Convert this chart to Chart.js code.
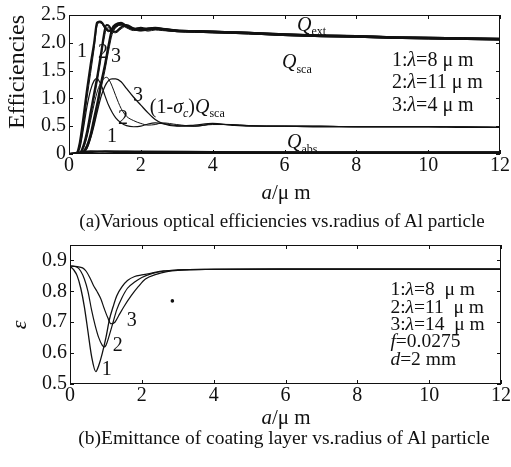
<!DOCTYPE html>
<html>
<head>
<meta charset="utf-8">
<script src="https://cdn.jsdelivr.net/npm/chart.js@4.4.1/dist/chart.umd.min.js"></script>
<style>
  body { margin: 0; background: #fff; }
  #wrap { position: relative; width: 511px; height: 467px; overflow: hidden; font-family: "Liberation Serif", "DejaVu Serif", serif; color: #111; }
  canvas { position: absolute; left: 0; }
  .t { position: absolute; transform: translate(-50%, -50%); white-space: nowrap; line-height: 1; }
  .rot { transform: translate(-50%, -50%) rotate(-90deg); }
</style>
</head>
<body>
<div id="wrap">
  <canvas id="top" width="511" height="180" style="top:0"></canvas>
  <canvas id="bottom" width="511" height="180" style="top:230px"></canvas>

  <div class="t rot" style="left:16px; top:72px; font-size:24px;">Efficiencies</div>
  <div class="t" style="left:286px; top:192px; font-size:21px;"><i>a</i>/μ m</div>
  <div class="t" style="left:282px; top:220px; font-size:19px;">(a)Various optical efficiencies vs.radius of Al particle</div>

  <div class="t rot" style="left:19px; top:325px; font-size:22px;"><i>ε</i></div>
  <div class="t" style="left:286px; top:417px; font-size:21px;"><i>a</i>/μ m</div>
  <div class="t" style="left:284px; top:438px; font-size:19.5px;">(b)Emittance of coating layer vs.radius of Al particle</div>
</div>
<script>
// --- (a) optical efficiencies, one a-grid per wavelength ---
const a1 = [0, 0.2, 0.3, 0.4, 0.5, 0.6, 0.7, 0.78, 0.85, 0.92, 1.0, 1.1, 1.2, 1.3, 1.45, 1.6, 1.8, 2.0, 2.2, 2.4, 2.7, 3.0, 3.5, 4.0, 4.5, 5, 6, 7, 8, 9, 10, 11, 12];
const qExt1 = [0, 0.01, 0.2, 0.65, 1.15, 1.6, 2.0, 2.36, 2.38, 2.36, 2.28, 2.22, 2.24, 2.3, 2.34, 2.3, 2.25, 2.24, 2.26, 2.27, 2.24, 2.22, 2.21, 2.2, 2.19, 2.18, 2.15, 2.13, 2.12, 2.1, 2.09, 2.08, 2.07];
const qSca1 = [0, 0, 0.12, 0.5, 1.0, 1.45, 1.9, 2.3, 2.36, 2.34, 2.26, 2.2, 2.22, 2.28, 2.32, 2.28, 2.23, 2.22, 2.24, 2.25, 2.22, 2.2, 2.19, 2.18, 2.17, 2.16, 2.13, 2.11, 2.1, 2.08, 2.07, 2.06, 2.05];
const qScaC1 = [0, 0, 0.1, 0.45, 0.85, 1.15, 1.32, 1.36, 1.3, 1.2, 1.05, 0.88, 0.75, 0.65, 0.56, 0.51, 0.49, 0.5, 0.54, 0.56, 0.54, 0.51, 0.5, 0.54, 0.53, 0.51, 0.5, 0.5, 0.49, 0.49, 0.49, 0.49, 0.48];

const a2 = [0, 0.3, 0.4, 0.5, 0.6, 0.7, 0.8, 0.9, 1.0, 1.05, 1.12, 1.2, 1.3, 1.45, 1.6, 1.8, 2.0, 2.2, 2.4, 2.6, 3.0, 3.5, 4.0, 4.5, 5, 6, 7, 8, 9, 10, 11, 12];
const qExt2 = [0, 0.02, 0.15, 0.4, 0.75, 1.1, 1.45, 1.85, 2.25, 2.32, 2.3, 2.22, 2.2, 2.28, 2.32, 2.26, 2.23, 2.25, 2.26, 2.25, 2.22, 2.21, 2.2, 2.19, 2.18, 2.15, 2.13, 2.12, 2.1, 2.09, 2.08, 2.07];
const qSca2 = [0, 0.01, 0.1, 0.32, 0.65, 1.0, 1.35, 1.75, 2.15, 2.26, 2.27, 2.2, 2.18, 2.25, 2.3, 2.24, 2.21, 2.23, 2.24, 2.23, 2.2, 2.19, 2.18, 2.17, 2.16, 2.13, 2.11, 2.1, 2.08, 2.07, 2.06, 2.05];
const qScaC2 = [0, 0.01, 0.1, 0.3, 0.6, 0.9, 1.15, 1.3, 1.37, 1.38, 1.33, 1.22, 1.05, 0.82, 0.68, 0.6, 0.55, 0.52, 0.53, 0.56, 0.53, 0.5, 0.53, 0.53, 0.51, 0.5, 0.5, 0.49, 0.49, 0.49, 0.49, 0.48];

const a3 = [0, 0.35, 0.5, 0.6, 0.7, 0.8, 0.9, 1.0, 1.1, 1.2, 1.3, 1.45, 1.6, 1.8, 2.0, 2.2, 2.4, 2.6, 3.0, 3.5, 4.0, 4.5, 5, 6, 7, 8, 9, 10, 11, 12];
const qExt3 = [0, 0.02, 0.15, 0.35, 0.65, 0.95, 1.3, 1.6, 1.95, 2.25, 2.33, 2.36, 2.3, 2.25, 2.27, 2.24, 2.26, 2.25, 2.22, 2.21, 2.2, 2.19, 2.18, 2.15, 2.13, 2.12, 2.1, 2.09, 2.08, 2.07];
const qSca3 = [0, 0.01, 0.1, 0.28, 0.55, 0.85, 1.2, 1.5, 1.85, 2.15, 2.27, 2.32, 2.27, 2.22, 2.24, 2.21, 2.23, 2.22, 2.2, 2.19, 2.18, 2.17, 2.16, 2.13, 2.11, 2.1, 2.08, 2.07, 2.06, 2.05];
const qScaC3 = [0, 0.01, 0.1, 0.28, 0.52, 0.8, 1.05, 1.22, 1.32, 1.35, 1.35, 1.3, 1.18, 1.02, 0.88, 0.74, 0.62, 0.55, 0.5, 0.52, 0.55, 0.52, 0.5, 0.5, 0.49, 0.49, 0.49, 0.49, 0.48, 0.48];

const aAbs = [0, 0.3, 0.6, 1, 2, 4, 6, 8, 10, 12];
const qAbs1 = [0, 0.03, 0.05, 0.04, 0.03, 0.03, 0.03, 0.03, 0.03, 0.03];
const qAbs2 = [0, 0.02, 0.04, 0.05, 0.04, 0.03, 0.03, 0.03, 0.03, 0.03];
const qAbs3 = [0, 0.01, 0.03, 0.05, 0.05, 0.04, 0.03, 0.03, 0.03, 0.03];

const xTicks = [0, 2, 4, 6, 8, 10, 12];
const qTicks = [0, 0.5, 1.0, 1.5, 2.0, 2.5];

// --- (b) emittance ---
const e1A = [0, 0.1, 0.2, 0.3, 0.4, 0.5, 0.6, 0.72, 0.8, 0.9, 1.0, 1.1, 1.2, 1.3, 1.45, 1.6, 1.8, 2.0, 2.3, 2.6, 3, 4, 6, 8, 10, 12];
const eps1 = [0.882, 0.87, 0.85, 0.81, 0.75, 0.67, 0.59, 0.54, 0.56, 0.6, 0.65, 0.71, 0.75, 0.785, 0.815, 0.835, 0.848, 0.853, 0.86, 0.866, 0.869, 0.871, 0.872, 0.872, 0.872, 0.872];
const e2A = [0, 0.2, 0.3, 0.4, 0.5, 0.6, 0.7, 0.8, 0.9, 0.95, 1.0, 1.1, 1.2, 1.3, 1.45, 1.6, 1.8, 2.0, 2.3, 2.6, 3, 4, 6, 8, 10, 12];
const eps2 = [0.882, 0.878, 0.865, 0.84, 0.8, 0.74, 0.69, 0.65, 0.625, 0.62, 0.625, 0.66, 0.7, 0.74, 0.78, 0.81, 0.83, 0.845, 0.858, 0.865, 0.869, 0.871, 0.872, 0.872, 0.872, 0.872];
const e3A = [0, 0.2, 0.35, 0.45, 0.55, 0.65, 0.75, 0.86, 0.95, 1.05, 1.14, 1.25, 1.35, 1.5, 1.7, 1.9, 2.1, 2.4, 2.7, 3, 4, 6, 8, 10, 12];
const eps3 = [0.882, 0.88, 0.876, 0.865, 0.845, 0.82, 0.8, 0.775, 0.745, 0.715, 0.695, 0.7, 0.72, 0.75, 0.785, 0.815, 0.84, 0.855, 0.864, 0.868, 0.871, 0.872, 0.872, 0.872, 0.872];
const strayA = [2.85];
const strayE = [0.769];
const epsTicks = [0.5, 0.6, 0.7, 0.8, 0.9];

const FONT = '"Liberation Serif", "DejaVu Serif", serif';
const INK = '#111';

const pts = (xs, ys) => xs.map((v, i) => ({ x: v, y: ys[i] }));
const line = (xs, ys, w) => ({
  data: pts(xs, ys), borderColor: INK, borderWidth: w, pointRadius: 0,
  cubicInterpolationMode: 'monotone', fill: false
});

// text helpers: parts = [[text, 'i' | 's' | 'is' | '']]
function drawRich(ctx, x, y, parts, size, align) {
  const fontOf = st => `${st.includes('i') ? 'italic ' : ''}${st.includes('s') ? Math.round(size * 0.62) : size}px ${FONT}`;
  let total = 0;
  parts.forEach(([t, st]) => { ctx.font = fontOf(st); total += ctx.measureText(t).width; });
  let cx = align === 'center' ? x - total / 2 : x;
  ctx.textBaseline = 'alphabetic';
  ctx.textAlign = 'left';
  parts.forEach(([t, st]) => {
    ctx.font = fontOf(st);
    ctx.fillText(t, cx, y + (st.includes('s') ? size * 0.22 : 0));
    cx += ctx.measureText(t).width;
  });
}

const framePlugin = {
  id: 'frame',
  afterDatasetsDraw(chart, args, opts) {
    const { ctx, chartArea: ca, scales: { x, y } } = chart;
    ctx.save();
    ctx.strokeStyle = INK;
    ctx.lineWidth = 1;
    ctx.strokeRect(ca.left + 0.5, ca.top + 0.5, ca.right - ca.left - 1, ca.bottom - ca.top - 1);
    ctx.beginPath();
    x.ticks.forEach(t => {
      const px = Math.round(x.getPixelForValue(t.value)) + 0.5;
      ctx.moveTo(px, ca.bottom); ctx.lineTo(px, ca.bottom - 4);
      ctx.moveTo(px, ca.top); ctx.lineTo(px, ca.top + 4);
    });
    y.ticks.forEach(t => {
      const py = Math.round(y.getPixelForValue(t.value)) + 0.5;
      ctx.moveTo(ca.left, py); ctx.lineTo(ca.left + 4, py);
      ctx.moveTo(ca.right, py); ctx.lineTo(ca.right - 4, py);
    });
    ctx.stroke();
    ctx.fillStyle = INK;
    (opts.items || []).forEach(it => {
      drawRich(ctx, x.getPixelForValue(it.x), y.getPixelForValue(it.y), it.parts, it.size, it.align || 'left');
    });
    ctx.restore();
  }
};

function axes(xt, yt, yMin, yMax, yFmt, yWidth, xHeight) {
  const tickFont = { family: FONT, size: 20 };
  return {
    x: {
      type: 'linear', min: 0, max: 12,
      afterBuildTicks: s => { s.ticks = xt.map(v => ({ value: v })); },
      afterFit: s => { s.height = xHeight; },
      grid: { display: false, drawTicks: false }, border: { display: false },
      ticks: { font: tickFont, color: INK, padding: 0, maxRotation: 0, autoSkip: false }
    },
    y: {
      type: 'linear', min: yMin, max: yMax,
      afterBuildTicks: s => { s.ticks = yt.map(v => ({ value: v })); },
      afterFit: s => { s.width = yWidth; },
      grid: { display: false, drawTicks: false }, border: { display: false },
      ticks: { font: tickFont, color: INK, padding: 3, callback: yFmt }
    }
  };
}

// label layout (data coordinates)
const notesTop = [
  { x: 0.36, y: 1.75, size: 20, align: 'center', parts: [['1', '']] },
  { x: 0.95, y: 1.73, size: 20, align: 'center', parts: [['2', '']] },
  { x: 1.31, y: 1.66, size: 20, align: 'center', parts: [['3', '']] },
  { x: 1.92, y: 0.96, size: 20, align: 'center', parts: [['3', '']] },
  { x: 1.50, y: 0.54, size: 20, align: 'center', parts: [['2', '']] },
  { x: 1.20, y: 0.21, size: 20, align: 'center', parts: [['1', '']] },
  { x: 2.25, y: 0.74, size: 20, parts: [['(1-', ''], ['σ', 'i'], ['c', 'is'], [')', ''], ['Q', 'i'], ['sca', 's']] },
  { x: 6.35, y: 2.22, size: 20, parts: [['Q', 'i'], ['ext', 's']] },
  { x: 5.93, y: 1.54, size: 20, parts: [['Q', 'i'], ['sca', 's']] },
  { x: 6.07, y: 0.1, size: 20, parts: [['Q', 'i'], ['abs', 's']] },
  { x: 8.99, y: 1.59, size: 20, parts: [['1:', ''], ['λ', 'i'], ['=8 μ m', '']] },
  { x: 8.99, y: 1.18, size: 20, parts: [['2:', ''], ['λ', 'i'], ['=11 μ m', '']] },
  { x: 8.99, y: 0.77, size: 20, parts: [['3:', ''], ['λ', 'i'], ['=4 μ m', '']] }
];
const notesBottom = [
  { x: 1.72, y: 0.687, size: 20, align: 'center', parts: [['3', '']] },
  { x: 1.33, y: 0.606, size: 20, align: 'center', parts: [['2', '']] },
  { x: 1.02, y: 0.528, size: 20, align: 'center', parts: [['1', '']] },
  { x: 8.92, y: 0.788, size: 19.5, parts: [['1:', ''], ['λ', 'i'], ['=8  μ m', '']] },
  { x: 8.92, y: 0.731, size: 19.5, parts: [['2:', ''], ['λ', 'i'], ['=11  μ m', '']] },
  { x: 8.92, y: 0.676, size: 19.5, parts: [['3:', ''], ['λ', 'i'], ['=14  μ m', '']] },
  { x: 8.92, y: 0.619, size: 19.5, parts: [['f', 'i'], ['=0.0275', '']] },
  { x: 8.92, y: 0.562, size: 19.5, parts: [['d', 'i'], ['=2 mm', '']] }
];

new Chart(document.getElementById('top'), {
  type: 'line',
  data: {
    datasets: [
      line(aAbs, qAbs1, 2), line(aAbs, qAbs2, 1.5), line(aAbs, qAbs3, 1.5),
      line(a1, qScaC1, 1.2), line(a2, qScaC2, 1), line(a3, qScaC3, 1.3),
      line(a1, qSca1, 1), line(a2, qSca2, 1), line(a3, qSca3, 1),
      line(a1, qExt1, 2.2), line(a2, qExt2, 2), line(a3, qExt3, 2.2)
    ]
  },
  options: {
    responsive: false, animation: false, devicePixelRatio: 1,
    layout: { padding: { left: 0, right: 11, top: 11, bottom: 0 } },
    plugins: { legend: { display: false }, tooltip: { enabled: false }, frame: { items: notesTop } },
    scales: axes(xTicks, qTicks, 0, 2.5, v => v === 0 ? '0' : v.toFixed(1), 69, 26)
  },
  plugins: [framePlugin]
});

new Chart(document.getElementById('bottom'), {
  type: 'line',
  data: {
    datasets: [
      line(e1A, eps1, 1.3), line(e2A, eps2, 1.2), line(e3A, eps3, 1.2),
      { type: 'scatter', data: pts(strayA, strayE), pointRadius: 1.8, pointBackgroundColor: INK, pointBorderWidth: 0, showLine: false }
    ]
  },
  options: {
    responsive: false, animation: false, devicePixelRatio: 1,
    layout: { padding: { left: 0, right: 8, top: 10, bottom: 0 } },
    plugins: { legend: { display: false }, tooltip: { enabled: false }, frame: { items: notesBottom } },
    scales: axes(xTicks, epsTicks, 0.5, 0.95, v => v.toFixed(1), 70, 26)
  },
  plugins: [framePlugin]
});
</script>
</body>
</html>
